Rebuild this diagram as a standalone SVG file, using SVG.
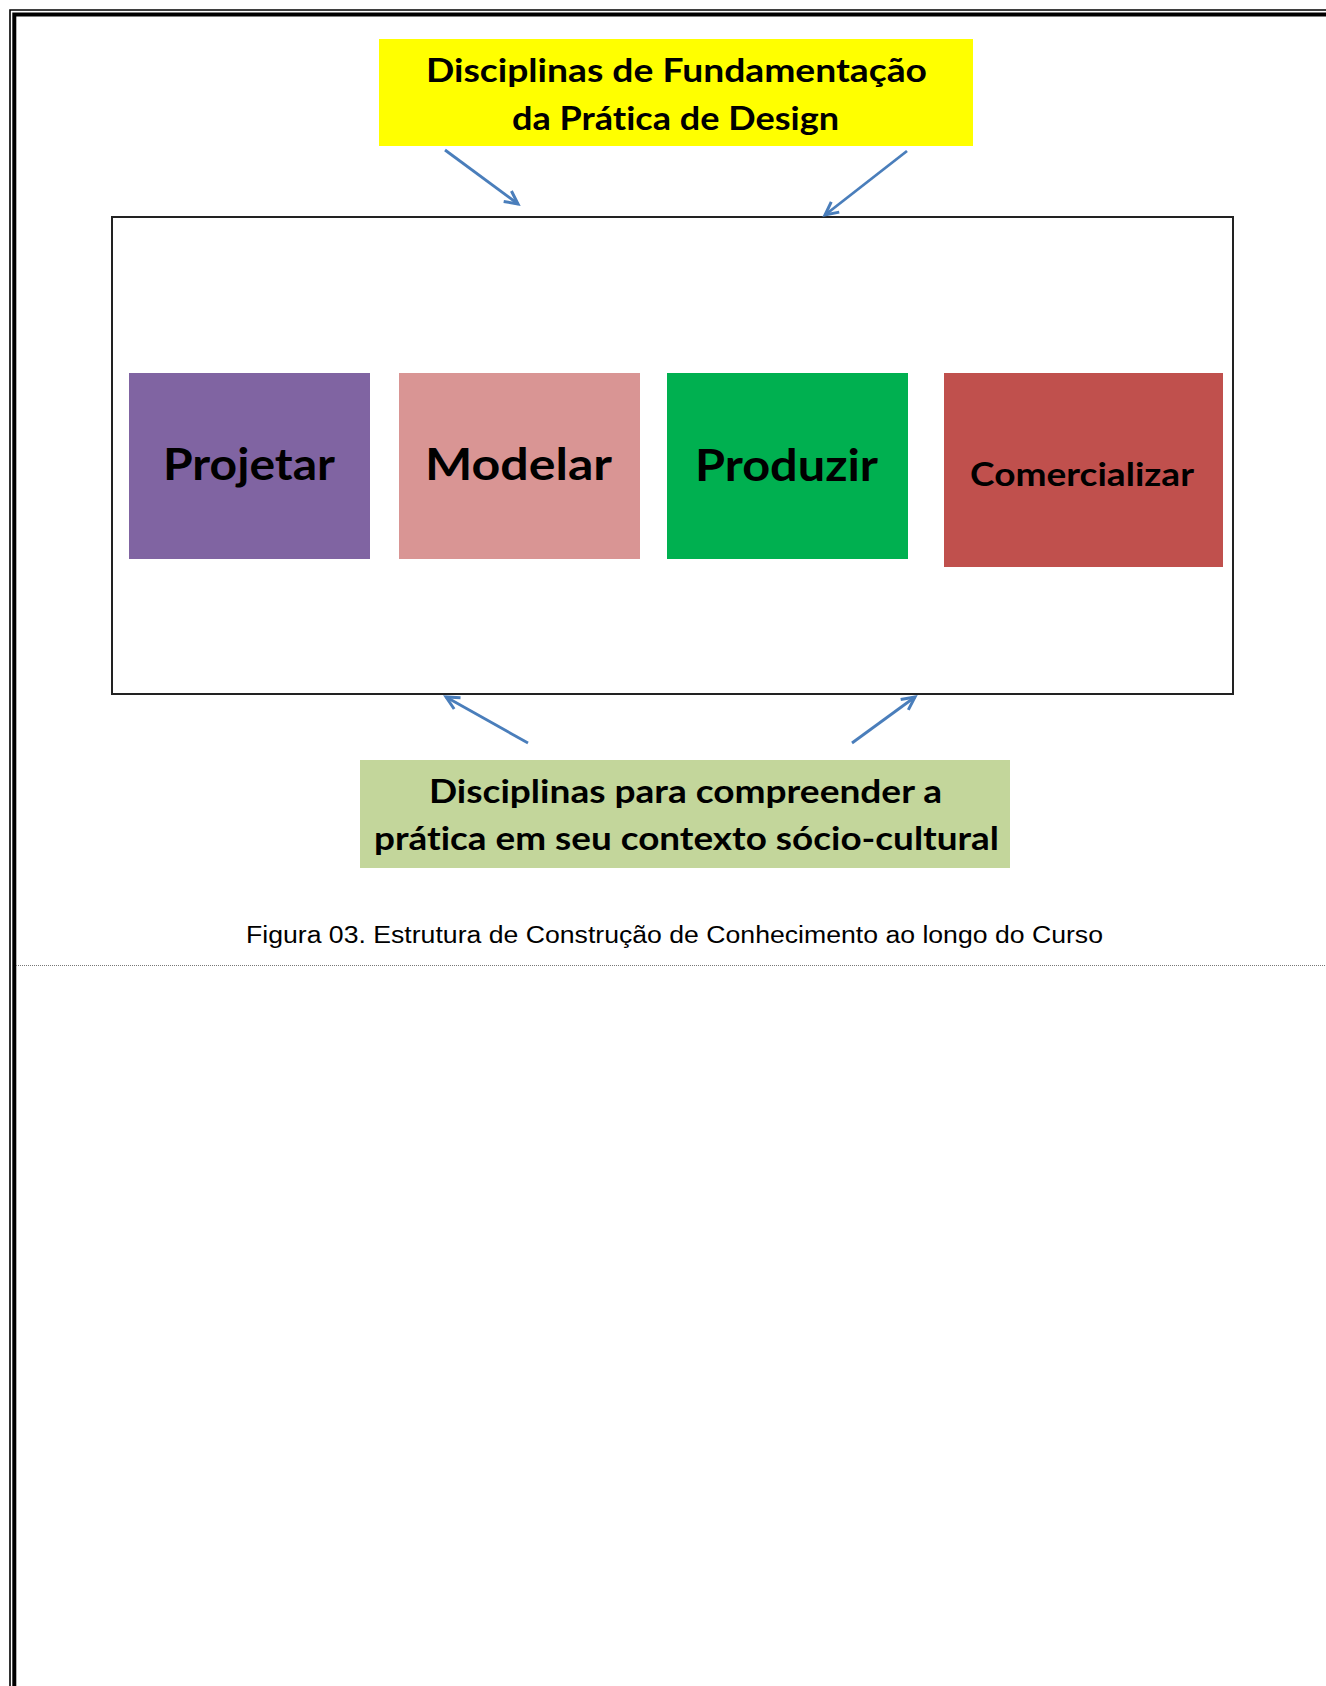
<svg xmlns="http://www.w3.org/2000/svg" width="1326" height="1686" viewBox="0 0 1326 1686">
<style>
.lbl{font-family:Lato,"Open Sans","Liberation Sans",sans-serif;font-weight:bold;fill:#000;font-variant-ligatures:none;}
.cap{font-family:"Liberation Sans",Arial,sans-serif;fill:#000;}
.conn{stroke:#4A7EBB;stroke-width:2.8;fill:none;marker-end:url(#arr);}
</style>
<defs>
<marker id="arr" markerUnits="userSpaceOnUse" markerWidth="18" markerHeight="18" viewBox="0 0 18 18" refX="15" refY="9" orient="auto">
<path d="M2,2.5 L15,9 L2,15.5" fill="none" stroke="#4A7EBB" stroke-width="3" stroke-linejoin="miter"/>
</marker>
</defs>
<rect width="1326" height="1686" fill="#fff"/>
<g id="page-border" stroke="#000" fill="none">
<path d="M10,1686 V10 H1326" stroke-width="1.6"/>
<path d="M14.3,1686 V14.6 H1326" stroke-width="4"/>
</g>
<g id="fundamentacao">
<rect x="379" y="39" width="594" height="107" fill="#FFFF00"/>
<text class="lbl" x="426" y="82" font-size="33" textLength="501" lengthAdjust="spacingAndGlyphs">Disciplinas de Fundamentação</text>
<text class="lbl" x="512" y="130" font-size="33" textLength="327" lengthAdjust="spacingAndGlyphs">da Prática de Design</text>
</g>
<g id="container">
<rect x="112" y="217" width="1121" height="477" fill="#fff" stroke="#222" stroke-width="2"/>
</g>
<g id="projetar">
<rect x="129" y="373" width="241" height="186" fill="#8064A2"/>
<text class="lbl" x="163" y="480" font-size="43" textLength="172" lengthAdjust="spacingAndGlyphs">Projetar</text>
</g>
<g id="modelar">
<rect x="399" y="373" width="241" height="186" fill="#D99594"/>
<text class="lbl" x="425" y="480" font-size="43" textLength="187" lengthAdjust="spacingAndGlyphs">Modelar</text>
</g>
<g id="produzir">
<rect x="667" y="373" width="241" height="186" fill="#00B050"/>
<text class="lbl" x="695" y="481" font-size="43" textLength="183" lengthAdjust="spacingAndGlyphs">Produzir</text>
</g>
<g id="comercializar">
<rect x="944" y="373" width="279" height="194" fill="#C0504D"/>
<text class="lbl" x="970" y="486" font-size="32" textLength="224" lengthAdjust="spacingAndGlyphs">Comercializar</text>
</g>
<g id="contexto">
<rect x="360" y="760" width="650" height="108" fill="#C3D69B"/>
<text class="lbl" x="429" y="803" font-size="33" textLength="513" lengthAdjust="spacingAndGlyphs">Disciplinas para compreender a</text>
<text class="lbl" x="374" y="850" font-size="33" textLength="625" lengthAdjust="spacingAndGlyphs">prática em seu contexto sócio-cultural</text>
</g>
<g id="connectors">
<line class="conn" x1="445" y1="150" x2="518" y2="204"/>
<line class="conn" x1="907" y1="151" x2="825" y2="215"/>
<line class="conn" x1="528" y1="743" x2="446" y2="697"/>
<line class="conn" x1="852" y1="743" x2="915" y2="697"/>
</g>
<g id="caption">
<text class="cap" x="246" y="943" font-size="23" textLength="857" lengthAdjust="spacingAndGlyphs">Figura 03. Estrutura de Construção de Conhecimento ao longo do Curso</text>
<line x1="16" y1="965.5" x2="1326" y2="965.5" stroke="#777" stroke-width="1" stroke-dasharray="1,1"/>
</g>
</svg>
